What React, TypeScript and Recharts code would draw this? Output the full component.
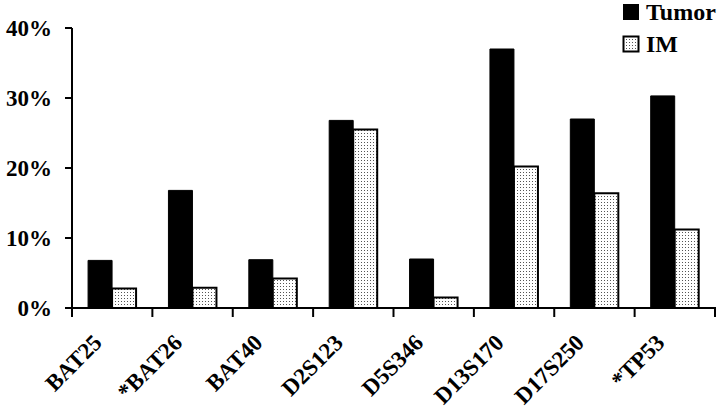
import React from "react";
import { BarChart, Bar, XAxis, YAxis, Legend } from "recharts";

const markers = ["BAT25", "*BAT26", "BAT40", "D2S123", "D5S346", "D13S170", "D17S250", "*TP53"];
const tumor = [6.8, 16.8, 6.9, 26.8, 7.0, 37.0, 27.0, 30.3];
const im = [2.8, 2.9, 4.2, 25.5, 1.5, 20.2, 16.4, 11.2];
const yTicks = [0, 10, 20, 30, 40];

const data = markers.map((m, i) => ({ name: m, Tumor: tumor[i], IM: im[i] }));

const W = 720;
const H = 412;
const M = { top: 28, right: 5, bottom: 4, left: 0 };
const Y_W = 72;
const BAND = (W - M.left - M.right - Y_W) / markers.length;
const FONT = "'Liberation Serif', 'Times New Roman', Times, serif";

const XTick = (props: any) => {
  const { x, y, payload, index } = props;
  const left = x - BAND / 2;
  const ax = x - 9;
  const ay = y + 36;
  return (
    <g>
      <line x1={left} y1={y - 1} x2={left} y2={y + 9} stroke="#000" strokeWidth={2} />
      {index === markers.length - 1 && (
        <line x1={x + BAND / 2} y1={y - 1} x2={x + BAND / 2} y2={y + 9} stroke="#000" strokeWidth={2} />
      )}
      <text
        x={ax}
        y={ay}
        textAnchor="end"
        transform={`rotate(-45, ${ax}, ${ay})`}
        fontFamily={FONT}
        fontWeight="bold"
        fontSize={23}
        fill="#000"
      >
        {payload.value}
      </text>
    </g>
  );
};

const LegendContent = () => (
  <div style={{ fontFamily: FONT, fontWeight: "bold", fontSize: 24, color: "#000", lineHeight: "32px" }}>
    <div style={{ display: "flex", alignItems: "center" }}>
      <svg width={18} height={18} style={{ marginRight: 6 }}>
        <rect x={1} y={1} width={16} height={16} fill="#000" />
      </svg>
      <span>Tumor</span>
    </div>
    <div style={{ display: "flex", alignItems: "center" }}>
      <svg width={18} height={18} style={{ marginRight: 6 }}>
        <defs>
          <pattern id="dotsL" width={3} height={3} patternUnits="userSpaceOnUse">
            <rect width={3} height={3} fill="#fff" />
            <rect x={1} y={1} width={1} height={1} fill="#555" />
          </pattern>
        </defs>
        <rect x={1.5} y={1.5} width={15} height={15} fill="url(#dotsL)" stroke="#000" strokeWidth={2} />
      </svg>
      <span>IM</span>
    </div>
  </div>
);

export default function App() {
  return (
    <div style={{ position: "absolute", left: 0, top: 0, width: W, height: H, background: "#fff" }}>
      <BarChart width={W} height={H} data={data} margin={M} barCategoryGap="20%" barGap={0}>
        <defs>
          <pattern id="dots" width={3} height={3} patternUnits="userSpaceOnUse">
            <rect width={3} height={3} fill="#fff" />
            <rect x={1} y={1} width={1} height={1} fill="#555" />
          </pattern>
        </defs>
        <XAxis
          dataKey="name"
          interval={0}
          height={100}
          tickSize={0}
          tickMargin={0}
          axisLine={{ stroke: "#000", strokeWidth: 2 }}
          tick={<XTick />}
        />
        <YAxis
          width={Y_W}
          domain={[0, 40]}
          ticks={yTicks}
          tickFormatter={(v: number) => `${v}%`}
          axisLine={{ stroke: "#000", strokeWidth: 2 }}
          tickLine={{ stroke: "#000", strokeWidth: 2 }}
          tickSize={7}
          tickMargin={13}
          tick={{ fill: "#000", fontFamily: FONT, fontWeight: "bold", fontSize: 23 }}
        />
        <Legend
          layout="vertical"
          align="center"
          verticalAlign="middle"
          content={<LegendContent />}
          wrapperStyle={{ left: 622, top: -4, width: 100 }}
        />
        <Bar dataKey="Tumor" fill="#000" stroke="#000" strokeWidth={1} isAnimationActive={false} />
        <Bar dataKey="IM" fill="url(#dots)" stroke="#000" strokeWidth={2} isAnimationActive={false} />
      </BarChart>
    </div>
  );
}
